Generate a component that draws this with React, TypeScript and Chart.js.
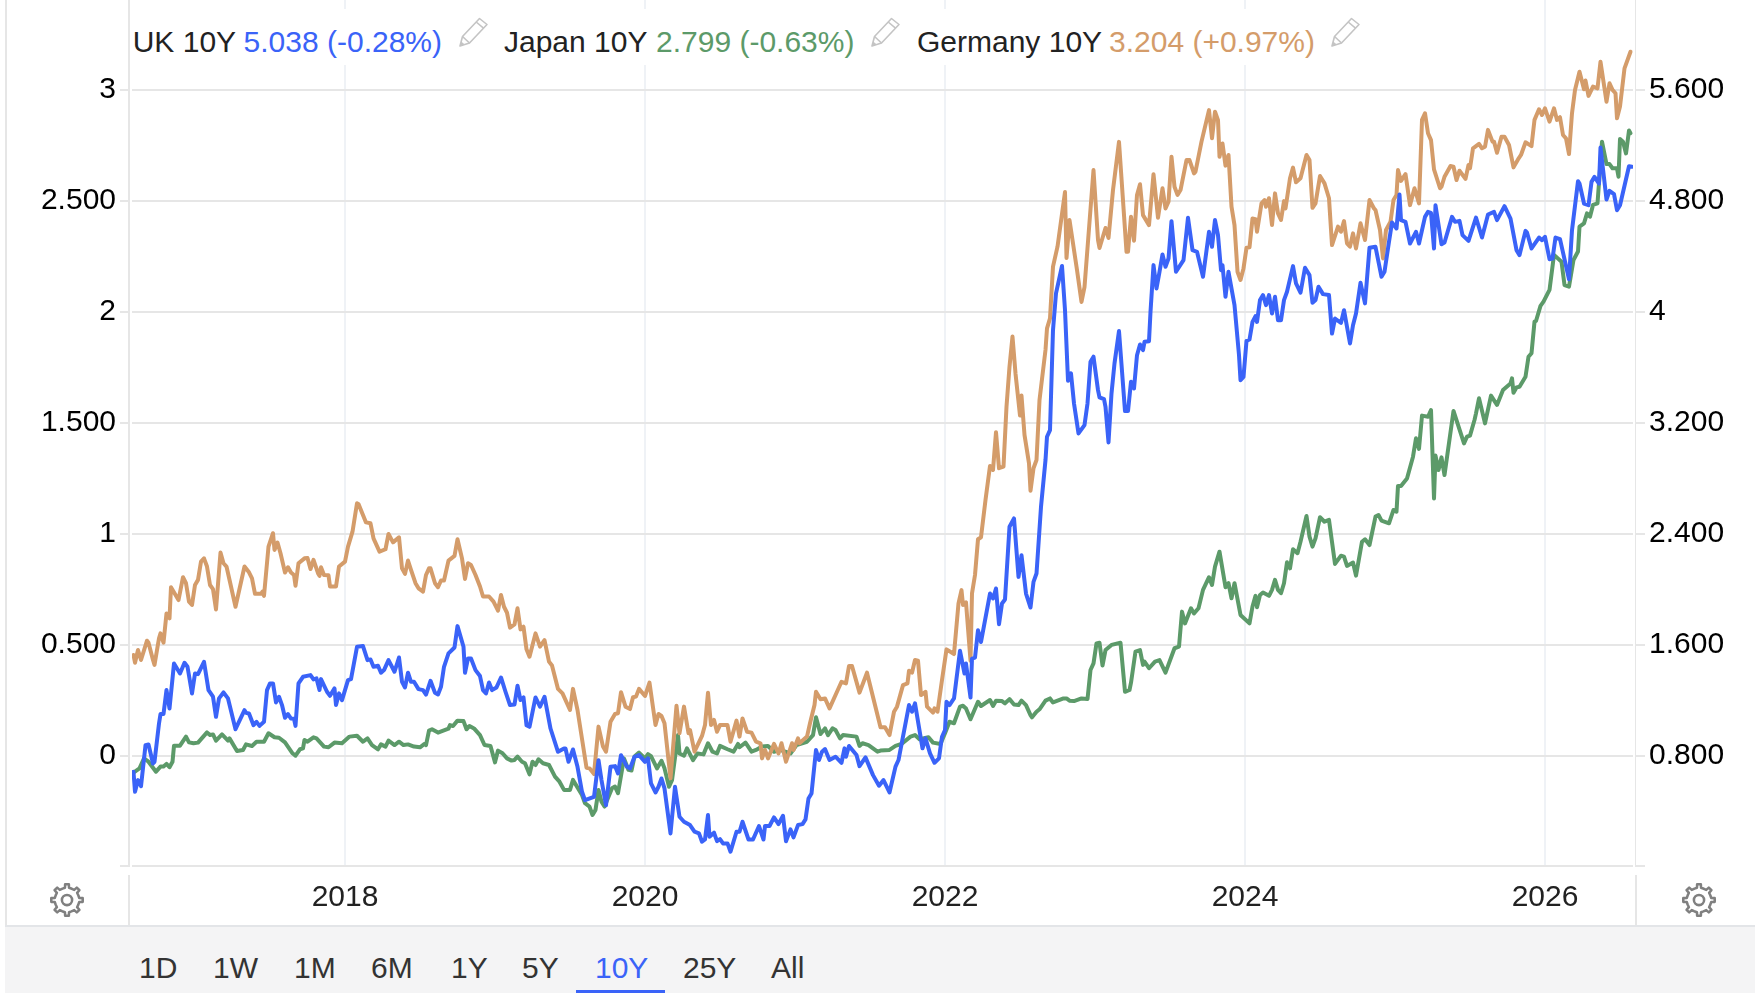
import React, { useEffect, useRef } from 'react';
import { Chart, registerables } from 'chart.js';

Chart.register(...registerables);

const FONT = '"Liberation Sans", Arial, sans-serif';

const UK_COLOR = '#3a63f8';
const JAPAN_COLOR = '#5c9a69';
const GERMANY_COLOR = '#d49c6a';

const yearTicks = [2018, 2020, 2022, 2024, 2026];
const leftTicks = [0, 0.5, 1, 1.5, 2, 2.5, 3];
const leftTickLabels = ['0', '0.500', '1', '1.500', '2', '2.500', '3'];
const rightTicks = [0.8, 1.6, 2.4, 3.2, 4, 4.8, 5.6];
const rightTickLabels = ['0.800', '1.600', '2.400', '3.200', '4', '4.800', '5.600'];
const rangeLabels = ['1D', '1W', '1M', '6M', '1Y', '5Y', '10Y', '25Y', 'All'];

// UK 10Y, right axis
const ukDates = [
  2016.59, 2016.60, 2016.62, 2016.64, 2016.67, 2016.69, 2016.72, 2016.73, 2016.76, 2016.77, 2016.79, 2016.81, 2016.83, 2016.86, 2016.90, 2016.93, 2016.95, 2016.98,
  2017.00, 2017.02, 2017.06, 2017.09, 2017.12, 2017.14, 2017.16, 2017.19, 2017.22, 2017.27, 2017.33, 2017.34, 2017.36, 2017.39, 2017.41, 2017.43, 2017.46, 2017.48, 2017.50, 2017.52, 2017.54, 2017.56, 2017.58, 2017.60, 2017.62, 2017.64, 2017.66, 2017.67, 2017.69, 2017.72, 2017.77, 2017.79, 2017.81, 2017.83, 2017.84, 2017.88, 2017.90, 2017.93, 2017.94, 2017.96, 2017.98,
  2018.02, 2018.04, 2018.08, 2018.12, 2018.15, 2018.17, 2018.19, 2018.22, 2018.24, 2018.26, 2018.29, 2018.33, 2018.36, 2018.38, 2018.40, 2018.42, 2018.44, 2018.46, 2018.49, 2018.52, 2018.54, 2018.57, 2018.60, 2018.62, 2018.64, 2018.66, 2018.69, 2018.73, 2018.75, 2018.79, 2018.80, 2018.82, 2018.84, 2018.87, 2018.90, 2018.92, 2018.94, 2018.96, 2018.98,
  2019.01, 2019.04, 2019.07, 2019.10, 2019.13, 2019.15, 2019.17, 2019.19, 2019.21, 2019.23, 2019.27, 2019.30, 2019.33, 2019.37, 2019.42, 2019.46, 2019.47, 2019.49, 2019.52, 2019.55, 2019.58, 2019.60, 2019.66, 2019.69, 2019.71, 2019.74, 2019.77, 2019.80, 2019.82, 2019.84, 2019.88, 2019.90, 2019.93, 2019.96,
  2020.00, 2020.02, 2020.04, 2020.07, 2020.09, 2020.11, 2020.13, 2020.17, 2020.20, 2020.23, 2020.26, 2020.30, 2020.33, 2020.36, 2020.38, 2020.40, 2020.42, 2020.43, 2020.46, 2020.48, 2020.50, 2020.52, 2020.55, 2020.57, 2020.61, 2020.63, 2020.65, 2020.69, 2020.72, 2020.76, 2020.79, 2020.80, 2020.83, 2020.86, 2020.89, 2020.92, 2020.94, 2020.97, 2020.99,
  2021.02, 2021.05, 2021.07, 2021.09, 2021.11, 2021.14, 2021.16, 2021.18, 2021.20, 2021.23, 2021.27, 2021.31, 2021.33, 2021.34, 2021.36, 2021.41, 2021.43, 2021.47, 2021.52, 2021.56, 2021.59, 2021.63, 2021.67, 2021.69, 2021.76, 2021.78, 2021.80, 2021.85, 2021.87, 2021.90, 2021.93, 2021.96, 2021.98,
  2022.00, 2022.01, 2022.03, 2022.06, 2022.10, 2022.13, 2022.14, 2022.17, 2022.18, 2022.20, 2022.22, 2022.24, 2022.30, 2022.32, 2022.34, 2022.36, 2022.38, 2022.40, 2022.43, 2022.46, 2022.49, 2022.51, 2022.54, 2022.57, 2022.59, 2022.61, 2022.64, 2022.67, 2022.68, 2022.70, 2022.72, 2022.74, 2022.78, 2022.80, 2022.82, 2022.84, 2022.86, 2022.89, 2022.93, 2022.95, 2022.97, 2022.99,
  2023.02, 2023.03, 2023.06, 2023.07, 2023.09, 2023.11, 2023.13, 2023.16, 2023.20, 2023.22, 2023.24, 2023.26, 2023.28, 2023.30, 2023.32, 2023.33, 2023.36, 2023.37, 2023.39, 2023.41, 2023.43, 2023.45, 2023.47, 2023.49, 2023.51, 2023.54, 2023.59, 2023.62, 2023.65, 2023.68, 2023.72, 2023.76, 2023.78, 2023.80, 2023.82, 2023.84, 2023.85, 2023.87, 2023.89, 2023.93, 2023.96, 2023.97, 2023.99,
  2024.01, 2024.03, 2024.05, 2024.07, 2024.08, 2024.10, 2024.12, 2024.14, 2024.16, 2024.18, 2024.20, 2024.22, 2024.24, 2024.26, 2024.28, 2024.32, 2024.34, 2024.37, 2024.40, 2024.43, 2024.45, 2024.47, 2024.49, 2024.52, 2024.56, 2024.58, 2024.60, 2024.64, 2024.66, 2024.70, 2024.72, 2024.74, 2024.77, 2024.80, 2024.83, 2024.87, 2024.91, 2024.93, 2024.96, 2024.98,
  2025.01, 2025.03, 2025.04, 2025.07, 2025.10, 2025.14, 2025.16, 2025.20, 2025.22, 2025.24, 2025.26, 2025.27, 2025.31, 2025.33, 2025.38, 2025.40, 2025.43, 2025.45, 2025.49, 2025.54, 2025.58, 2025.62, 2025.66, 2025.68, 2025.73, 2025.77, 2025.81, 2025.83, 2025.87, 2025.88, 2025.91, 2025.96, 2025.98,
  2026.00, 2026.03, 2026.05, 2026.07, 2026.10, 2026.16, 2026.18, 2026.22, 2026.23, 2026.26, 2026.29, 2026.31, 2026.33, 2026.36, 2026.37, 2026.41, 2026.43, 2026.46, 2026.48, 2026.50, 2026.56, 2026.58,
];
const ukYields = [
  0.684, 0.540, 0.624, 0.580, 0.876, 0.881, 0.744, 0.756, 1.032, 1.100, 1.100, 1.273, 1.140, 1.465, 1.393, 1.470, 1.441, 1.249,
  1.393, 1.388, 1.477, 1.273, 1.225, 1.080, 1.213, 1.256, 1.213, 0.991, 1.128, 1.109, 1.104, 1.020, 1.044, 1.015, 1.044, 1.273, 1.321, 1.321, 1.184, 1.225, 1.165, 1.073, 1.100, 1.068, 1.066, 1.015, 1.321, 1.369, 1.381, 1.350, 1.357, 1.273, 1.352, 1.261, 1.232, 1.285, 1.165, 1.249, 1.201,
  1.345, 1.352, 1.585, 1.590, 1.489, 1.494, 1.441, 1.448, 1.398, 1.417, 1.489, 1.405, 1.508, 1.333, 1.292, 1.398, 1.333, 1.333, 1.280, 1.273, 1.241, 1.340, 1.253, 1.241, 1.297, 1.441, 1.537, 1.580, 1.734, 1.585, 1.398, 1.501, 1.501, 1.417, 1.374, 1.273, 1.249, 1.328, 1.273,
  1.292, 1.364, 1.261, 1.165, 1.169, 1.304, 1.201, 1.220, 1.020, 1.008, 1.220, 1.153, 1.225, 0.996, 0.828, 0.852, 0.852, 0.756, 0.845, 0.720, 0.540, 0.479, 0.503, 0.768, 0.624, 0.443, 0.720, 0.725, 0.672, 0.804, 0.720, 0.708, 0.792, 0.804,
  0.756, 0.781, 0.600, 0.535, 0.576, 0.636, 0.564, 0.240, 0.576, 0.360, 0.324, 0.300, 0.252, 0.240, 0.180, 0.196, 0.372, 0.216, 0.245, 0.184, 0.199, 0.168, 0.168, 0.108, 0.252, 0.252, 0.324, 0.196, 0.196, 0.293, 0.196, 0.293, 0.293, 0.355, 0.307, 0.367, 0.184, 0.269, 0.211,
  0.300, 0.307, 0.341, 0.492, 0.528, 0.841, 0.769, 0.829, 0.848, 0.769, 0.793, 0.749, 0.853, 0.793, 0.870, 0.805, 0.725, 0.788, 0.660, 0.584, 0.624, 0.535, 0.721, 0.769, 1.165, 1.117, 1.177, 0.853, 0.925, 0.817, 0.749, 0.781, 0.937,
  0.985, 1.189, 1.165, 1.213, 1.556, 1.392, 1.464, 1.219, 1.500, 1.507, 1.705, 1.620, 1.969, 1.933, 2.005, 1.748, 1.897, 1.926, 2.450, 2.510, 2.089, 2.245, 1.969, 1.868, 2.053, 2.113, 2.594, 2.931, 3.099, 3.147, 3.868, 4.132, 4.330, 4.012, 3.503, 3.556, 3.339, 3.123, 3.183, 3.339, 3.640, 3.676,
  3.435, 3.383, 3.370, 3.315, 3.058, 3.411, 3.628, 3.861, 3.284, 3.284, 3.495, 3.447, 3.687, 3.764, 3.723, 3.783, 3.788, 3.999, 4.336, 4.168, 4.288, 4.413, 4.324, 4.384, 4.653, 4.288, 4.372, 4.677, 4.444, 4.432, 4.252, 4.576, 4.468, 4.661, 4.552, 4.300, 4.336, 4.108, 4.288, 4.048, 3.687, 3.507, 3.531,
  3.790, 3.800, 3.927, 3.968, 3.927, 4.084, 4.120, 4.048, 4.120, 3.987, 4.108, 3.939, 3.939, 4.084, 4.144, 4.329, 4.204, 4.137, 4.317, 4.264, 4.064, 4.084, 4.180, 4.127, 4.120, 3.843, 3.951, 3.920, 4.011, 3.771, 3.903, 3.987, 4.209, 4.060, 4.461, 4.468, 4.252, 4.288, 4.504, 4.644,
  4.600, 4.845, 4.660, 4.648, 4.492, 4.576, 4.492, 4.684, 4.720, 4.713, 4.456, 4.768, 4.487, 4.499, 4.684, 4.648, 4.655, 4.552, 4.511, 4.679, 4.535, 4.701, 4.720, 4.660, 4.761, 4.672, 4.444, 4.408, 4.583, 4.571, 4.456, 4.535, 4.516,
  4.540, 4.379, 4.383, 4.535, 4.523, 4.234, 4.588, 4.941, 4.924, 4.780, 4.768, 4.936, 4.972, 4.924, 5.184, 4.809, 4.871, 4.847, 4.732, 4.768, 5.049, 5.045,
];

// Japan 10Y, left axis
const japanDates = [
  2016.59, 2016.63, 2016.66, 2016.69, 2016.74, 2016.77, 2016.79, 2016.81, 2016.83, 2016.85, 2016.86, 2016.90, 2016.94, 2016.96, 2016.99,
  2017.02, 2017.08, 2017.10, 2017.12, 2017.14, 2017.18, 2017.22, 2017.23, 2017.28, 2017.32, 2017.34, 2017.38, 2017.41, 2017.46, 2017.49, 2017.53, 2017.56, 2017.60, 2017.65, 2017.67, 2017.70, 2017.72, 2017.73, 2017.75, 2017.79, 2017.81, 2017.86, 2017.89, 2017.93, 2017.98,
  2018.03, 2018.08, 2018.12, 2018.15, 2018.18, 2018.22, 2018.24, 2018.27, 2018.29, 2018.33, 2018.36, 2018.39, 2018.42, 2018.46, 2018.50, 2018.53, 2018.54, 2018.56, 2018.58, 2018.62, 2018.69, 2018.70, 2018.72, 2018.75, 2018.79, 2018.81, 2018.83, 2018.86, 2018.90, 2018.93, 2018.97,
  2019.00, 2019.02, 2019.05, 2019.08, 2019.11, 2019.13, 2019.15, 2019.18, 2019.20, 2019.23, 2019.25, 2019.27, 2019.29, 2019.32, 2019.36, 2019.40, 2019.43, 2019.46, 2019.50, 2019.52, 2019.54, 2019.58, 2019.60, 2019.63, 2019.65, 2019.67, 2019.69, 2019.71, 2019.73, 2019.78, 2019.80, 2019.82, 2019.86, 2019.89, 2019.91, 2019.93, 2019.96,
  2020.00, 2020.02, 2020.04, 2020.08, 2020.11, 2020.13, 2020.16, 2020.18, 2020.22, 2020.23, 2020.26, 2020.28, 2020.32, 2020.35, 2020.39, 2020.42, 2020.45, 2020.48, 2020.50, 2020.55, 2020.59, 2020.62, 2020.63, 2020.67, 2020.71, 2020.74, 2020.78, 2020.82, 2020.86, 2020.90, 2020.97,
  2021.01, 2021.08, 2021.12, 2021.14, 2021.17, 2021.20, 2021.22, 2021.25, 2021.27, 2021.30, 2021.32, 2021.41, 2021.43, 2021.45, 2021.49, 2021.55, 2021.57, 2021.63, 2021.67, 2021.71, 2021.77, 2021.80, 2021.83, 2021.89, 2021.92, 2021.97,
  2022.00, 2022.03, 2022.06, 2022.10, 2022.12, 2022.14, 2022.17, 2022.22, 2022.24, 2022.30, 2022.32, 2022.34, 2022.38, 2022.40, 2022.43, 2022.46, 2022.49, 2022.51, 2022.54, 2022.57, 2022.58, 2022.61, 2022.63, 2022.67, 2022.70, 2022.72, 2022.79, 2022.81, 2022.83, 2022.86, 2022.91, 2022.95, 2022.97, 2022.99,
  2023.01, 2023.03, 2023.05, 2023.07, 2023.11, 2023.17, 2023.20, 2023.23, 2023.24, 2023.27, 2023.30, 2023.32, 2023.33, 2023.36, 2023.40, 2023.43, 2023.47, 2023.53, 2023.56, 2023.58, 2023.60, 2023.64, 2023.66, 2023.69, 2023.72, 2023.76, 2023.78, 2023.80, 2023.83, 2023.87, 2023.89, 2023.91, 2023.93, 2023.97,
  2024.03, 2024.05, 2024.07, 2024.08, 2024.10, 2024.12, 2024.16, 2024.18, 2024.20, 2024.22, 2024.24, 2024.26, 2024.28, 2024.30, 2024.32, 2024.35, 2024.37, 2024.41, 2024.43, 2024.45, 2024.47, 2024.50, 2024.53, 2024.56, 2024.60, 2024.64, 2024.66, 2024.68, 2024.72, 2024.74, 2024.78, 2024.80, 2024.83, 2024.87, 2024.89, 2024.91, 2024.96, 2024.99,
  2025.01, 2025.02, 2025.04, 2025.08, 2025.12, 2025.14, 2025.16, 2025.18, 2025.22, 2025.24, 2025.26, 2025.27, 2025.29, 2025.31, 2025.33, 2025.39, 2025.46, 2025.48, 2025.50, 2025.53, 2025.54, 2025.56, 2025.60, 2025.64, 2025.68, 2025.72, 2025.77, 2025.78, 2025.79, 2025.81, 2025.83, 2025.87, 2025.89, 2025.91, 2025.93, 2025.94, 2025.97, 2025.99,
  2026.03, 2026.06, 2026.11, 2026.13, 2026.16, 2026.19, 2026.22, 2026.23, 2026.26, 2026.28, 2026.30, 2026.32, 2026.35, 2026.38, 2026.41, 2026.43, 2026.45, 2026.48, 2026.49, 2026.50, 2026.52, 2026.54, 2026.56, 2026.57,
];
const japanYields = [
  -0.076, -0.057, -0.012, -0.027, -0.072, -0.049, -0.049, -0.037, -0.052, -0.027, 0.045, 0.045, 0.086, 0.060, 0.056,
  0.059, 0.105, 0.093, 0.096, 0.068, 0.096, 0.068, 0.078, 0.021, 0.026, 0.051, 0.044, 0.063, 0.063, 0.101, 0.083, 0.081, 0.060, 0.011, 0.000, 0.029, 0.033, 0.071, 0.063, 0.083, 0.078, 0.041, 0.038, 0.059, 0.056,
  0.086, 0.090, 0.063, 0.078, 0.048, 0.029, 0.051, 0.041, 0.068, 0.048, 0.063, 0.048, 0.051, 0.041, 0.038, 0.053, 0.048, 0.113, 0.119, 0.104, 0.122, 0.138, 0.134, 0.158, 0.156, 0.119, 0.134, 0.123, 0.093, 0.048, 0.044,
  -0.030, 0.023, 0.011, -0.012, -0.022, -0.019, -0.004, -0.027, -0.034, -0.084, -0.027, -0.042, -0.016, -0.034, -0.042, -0.094, -0.117, -0.154, -0.154, -0.109, -0.132, -0.177, -0.214, -0.229, -0.267, -0.244, -0.154, -0.207, -0.229, -0.147, -0.139, -0.169, -0.012, -0.064, -0.067, -0.004, 0.014,
  -0.012, 0.007, -0.002, -0.057, -0.023, -0.057, -0.140, -0.110, 0.093, 0.010, 0.000, 0.033, -0.020, 0.010, 0.006, 0.056, 0.018, 0.010, 0.044, 0.029, 0.018, 0.053, 0.038, 0.059, 0.018, 0.026, 0.041, 0.044, 0.018, 0.026, 0.010,
  0.048, 0.063, 0.093, 0.173, 0.098, 0.123, 0.093, 0.123, 0.116, 0.078, 0.093, 0.086, 0.044, 0.056, 0.048, 0.018, 0.023, 0.026, 0.044, 0.053, 0.086, 0.093, 0.074, 0.083, 0.059, 0.053,
  0.101, 0.153, 0.146, 0.221, 0.225, 0.213, 0.164, 0.243, 0.224, 0.251, 0.224, 0.248, 0.246, 0.236, 0.255, 0.231, 0.228, 0.248, 0.228, 0.183, 0.173, 0.198, 0.209, 0.248, 0.258, 0.240, 0.258, 0.258, 0.248, 0.246, 0.258, 0.255, 0.386, 0.416,
  0.506, 0.509, 0.406, 0.476, 0.499, 0.509, 0.288, 0.296, 0.329, 0.469, 0.476, 0.409, 0.424, 0.394, 0.424, 0.431, 0.374, 0.484, 0.491, 0.649, 0.596, 0.664, 0.641, 0.664, 0.747, 0.804, 0.769, 0.852, 0.919, 0.759, 0.777, 0.709, 0.777, 0.634,
  0.596, 0.672, 0.720, 0.669, 0.724, 0.735, 0.720, 0.747, 0.792, 0.747, 0.732, 0.777, 0.871, 0.844, 0.930, 0.912, 0.964, 1.080, 0.987, 0.942, 0.979, 1.074, 1.054, 1.062, 0.864, 0.901, 0.897, 0.855, 0.870, 0.811, 0.964, 0.975, 0.949, 1.077, 1.084, 1.059, 1.047, 1.107,
  1.099, 1.215, 1.215, 1.249, 1.347, 1.430, 1.382, 1.532, 1.527, 1.557, 1.159, 1.352, 1.287, 1.344, 1.264, 1.553, 1.407, 1.437, 1.442, 1.512, 1.542, 1.610, 1.497, 1.622, 1.580, 1.647, 1.677, 1.700, 1.635, 1.659, 1.662, 1.707, 1.797, 1.813, 1.955, 1.958, 2.026, 2.045,
  2.098, 2.256, 2.225, 2.120, 2.113, 2.233, 2.271, 2.383, 2.398, 2.443, 2.428, 2.481, 2.488, 2.766, 2.665, 2.665, 2.646, 2.646, 2.608, 2.778, 2.766, 2.713, 2.816, 2.804,
];

// Germany 10Y, left axis
const germanyDates = [
  2016.59, 2016.60, 2016.62, 2016.64, 2016.68, 2016.69, 2016.72, 2016.73, 2016.76, 2016.77, 2016.79, 2016.81, 2016.83, 2016.84, 2016.89, 2016.92, 2016.94, 2016.96, 2016.98,
  2017.00, 2017.02, 2017.04, 2017.06, 2017.08, 2017.10, 2017.12, 2017.14, 2017.17, 2017.19, 2017.21, 2017.24, 2017.27, 2017.33, 2017.36, 2017.38, 2017.40, 2017.44, 2017.45, 2017.46, 2017.49, 2017.52, 2017.53, 2017.55, 2017.57, 2017.60, 2017.62, 2017.64, 2017.66, 2017.67, 2017.69, 2017.73, 2017.75, 2017.77, 2017.79, 2017.82, 2017.83, 2017.84, 2017.86, 2017.89, 2017.90, 2017.94, 2017.96,
  2018.00, 2018.02, 2018.05, 2018.08, 2018.09, 2018.14, 2018.17, 2018.19, 2018.23, 2018.27, 2018.29, 2018.32, 2018.36, 2018.38, 2018.40, 2018.42, 2018.44, 2018.47, 2018.49, 2018.52, 2018.54, 2018.56, 2018.57, 2018.60, 2018.62, 2018.64, 2018.66, 2018.69, 2018.73, 2018.75, 2018.78, 2018.80, 2018.82, 2018.84, 2018.87, 2018.90, 2018.92, 2018.96, 2018.99,
  2019.02, 2019.04, 2019.06, 2019.08, 2019.10, 2019.13, 2019.15, 2019.17, 2019.19, 2019.21, 2019.23, 2019.27, 2019.30, 2019.33, 2019.36, 2019.38, 2019.42, 2019.45, 2019.50, 2019.52, 2019.55, 2019.61, 2019.63, 2019.66, 2019.69, 2019.72, 2019.74, 2019.77, 2019.80, 2019.82, 2019.84, 2019.87, 2019.90, 2019.92, 2019.94, 2019.96,
  2020.00, 2020.03, 2020.07, 2020.09, 2020.11, 2020.13, 2020.17, 2020.21, 2020.23, 2020.26, 2020.29, 2020.30, 2020.33, 2020.38, 2020.40, 2020.42, 2020.44, 2020.46, 2020.48, 2020.50, 2020.55, 2020.57, 2020.61, 2020.63, 2020.65, 2020.68, 2020.71, 2020.74, 2020.77, 2020.78, 2020.80, 2020.82, 2020.86, 2020.89, 2020.91, 2020.94, 2020.98, 2020.99,
  2021.02, 2021.03, 2021.08, 2021.10, 2021.13, 2021.14, 2021.17, 2021.20, 2021.23, 2021.28, 2021.31, 2021.34, 2021.36, 2021.38, 2021.43, 2021.48, 2021.57, 2021.60, 2021.63, 2021.66, 2021.68, 2021.72, 2021.75, 2021.76, 2021.78, 2021.80, 2021.82, 2021.84, 2021.87, 2021.88, 2021.92, 2021.93, 2021.95, 2021.98,
  2022.01, 2022.06, 2022.09, 2022.11, 2022.12, 2022.14, 2022.17, 2022.18, 2022.20, 2022.22, 2022.24, 2022.27, 2022.30, 2022.32, 2022.34, 2022.36, 2022.39, 2022.41, 2022.43, 2022.45, 2022.47, 2022.50, 2022.51, 2022.53, 2022.56, 2022.57, 2022.59, 2022.61, 2022.63, 2022.67, 2022.68, 2022.70, 2022.72, 2022.75, 2022.80, 2022.81, 2022.83, 2022.88, 2022.91, 2022.93, 2022.99,
  2023.02, 2023.03, 2023.07, 2023.09, 2023.12, 2023.16, 2023.21, 2023.22, 2023.24, 2023.26, 2023.28, 2023.30, 2023.32, 2023.36, 2023.39, 2023.42, 2023.45, 2023.47, 2023.49, 2023.51, 2023.53, 2023.55, 2023.57, 2023.61, 2023.63, 2023.66, 2023.67, 2023.71, 2023.76, 2023.78, 2023.80, 2023.82, 2023.83, 2023.85, 2023.87, 2023.89, 2023.91, 2023.93, 2023.95, 2023.97, 2023.99,
  2024.01, 2024.03, 2024.05, 2024.07, 2024.08, 2024.11, 2024.13, 2024.14, 2024.16, 2024.18, 2024.20, 2024.22, 2024.24, 2024.26, 2024.27, 2024.30, 2024.32, 2024.34, 2024.37, 2024.41, 2024.43, 2024.45, 2024.47, 2024.50, 2024.53, 2024.56, 2024.58, 2024.62, 2024.64, 2024.66, 2024.68, 2024.70, 2024.72, 2024.74, 2024.77, 2024.80, 2024.83, 2024.86, 2024.87, 2024.90, 2024.92, 2024.94, 2024.97, 2024.99,
  2025.01, 2025.02, 2025.04, 2025.07, 2025.10, 2025.13, 2025.16, 2025.18, 2025.20, 2025.22, 2025.24, 2025.26, 2025.30, 2025.31, 2025.33, 2025.37, 2025.39, 2025.41, 2025.43, 2025.47, 2025.49, 2025.50, 2025.52, 2025.56, 2025.58, 2025.60, 2025.62, 2025.65, 2025.66, 2025.68, 2025.71, 2025.73, 2025.76, 2025.79, 2025.82, 2025.84, 2025.87, 2025.91, 2025.93, 2025.96, 2025.98,
  2026.00, 2026.03, 2026.06, 2026.08, 2026.10, 2026.12, 2026.14, 2026.16, 2026.18, 2026.20, 2026.23, 2026.26, 2026.27, 2026.29, 2026.32, 2026.35, 2026.37, 2026.41, 2026.43, 2026.45, 2026.47, 2026.48, 2026.50, 2026.53, 2026.57,
];
const germanyYields = [
  0.454, 0.419, 0.476, 0.431, 0.518, 0.509, 0.431, 0.409, 0.529, 0.551, 0.509, 0.641, 0.619, 0.759, 0.701, 0.804, 0.777, 0.694, 0.679,
  0.769, 0.792, 0.874, 0.889, 0.852, 0.769, 0.750, 0.659, 0.915, 0.867, 0.852, 0.762, 0.671, 0.852, 0.826, 0.799, 0.729, 0.729, 0.739, 0.720, 0.942, 1.002, 0.927, 0.960, 0.912, 0.825, 0.849, 0.825, 0.814, 0.766, 0.867, 0.889, 0.891, 0.841, 0.882, 0.822, 0.810, 0.849, 0.814, 0.813, 0.762, 0.762, 0.852,
  0.874, 0.942, 1.009, 1.137, 1.134, 1.051, 1.047, 0.979, 0.919, 0.930, 0.999, 0.961, 0.984, 0.844, 0.819, 0.879, 0.837, 0.777, 0.754, 0.739, 0.814, 0.844, 0.844, 0.777, 0.759, 0.789, 0.789, 0.879, 0.900, 0.975, 0.889, 0.796, 0.867, 0.859, 0.814, 0.762, 0.717, 0.717, 0.694,
  0.653, 0.724, 0.671, 0.644, 0.577, 0.592, 0.664, 0.569, 0.581, 0.479, 0.446, 0.551, 0.491, 0.521, 0.424, 0.406, 0.301, 0.281, 0.206, 0.301, 0.206, -0.054, -0.057, -0.082, 0.131, 0.041, 0.018, 0.153, 0.188, 0.191, 0.286, 0.221, 0.210, 0.263, 0.266, 0.301,
  0.269, 0.329, 0.138, 0.188, 0.179, 0.146, -0.102, 0.225, 0.101, 0.221, 0.101, 0.116, 0.018, 0.089, 0.138, 0.284, 0.138, 0.161, 0.108, 0.138, 0.138, 0.063, 0.158, 0.086, 0.168, 0.108, 0.104, 0.063, 0.056, -0.012, 0.026, -0.012, 0.053, 0.010, 0.056, -0.027, 0.056, 0.026,
  0.078, 0.056, 0.086, 0.146, 0.228, 0.288, 0.254, 0.258, 0.213, 0.288, 0.333, 0.326, 0.404, 0.404, 0.284, 0.374, 0.128, 0.128, 0.093, 0.198, 0.221, 0.318, 0.326, 0.383, 0.374, 0.431, 0.428, 0.273, 0.288, 0.221, 0.194, 0.213, 0.198, 0.341,
  0.479, 0.458, 0.686, 0.746, 0.679, 0.691, 0.428, 0.731, 0.814, 0.975, 0.984, 1.152, 1.305, 1.287, 1.457, 1.295, 1.302, 1.572, 1.752, 1.888, 1.722, 1.532, 1.622, 1.445, 1.317, 1.194, 1.295, 1.332, 1.602, 1.828, 1.925, 1.970, 2.203, 2.293, 2.539, 2.242, 2.413, 2.188, 2.044, 2.111, 2.638,
  2.323, 2.287, 2.377, 2.332, 2.548, 2.765, 2.270, 2.270, 2.428, 2.320, 2.526, 2.574, 2.435, 2.390, 2.619, 2.423, 2.556, 2.465, 2.495, 2.698, 2.563, 2.526, 2.548, 2.683, 2.683, 2.623, 2.631, 2.766, 2.908, 2.781, 2.901, 2.863, 2.698, 2.758, 2.658, 2.706, 2.473, 2.390, 2.180, 2.143, 2.195,
  2.288, 2.290, 2.420, 2.417, 2.360, 2.488, 2.503, 2.473, 2.511, 2.390, 2.533, 2.443, 2.413, 2.498, 2.465, 2.601, 2.649, 2.583, 2.601, 2.706, 2.683, 2.468, 2.488, 2.611, 2.578, 2.511, 2.300, 2.383, 2.360, 2.408, 2.308, 2.293, 2.353, 2.285, 2.398, 2.323, 2.503, 2.465, 2.458, 2.368, 2.240, 2.368, 2.405, 2.503,
  2.526, 2.638, 2.589, 2.620, 2.480, 2.556, 2.488, 2.864, 2.894, 2.804, 2.773, 2.641, 2.556, 2.563, 2.608, 2.656, 2.653, 2.593, 2.635, 2.598, 2.661, 2.646, 2.736, 2.756, 2.736, 2.743, 2.819, 2.766, 2.766, 2.716, 2.788, 2.788, 2.751, 2.650, 2.686, 2.706, 2.763, 2.746, 2.864, 2.912, 2.886,
  2.916, 2.856, 2.916, 2.864, 2.876, 2.796, 2.781, 2.710, 2.894, 2.999, 3.081, 3.002, 3.041, 2.972, 3.014, 3.006, 3.126, 2.946, 3.029, 2.999, 2.984, 2.871, 2.924, 3.096, 3.171,
];

const GRID_H = '#e6e6e6';
const GRID_V = '#eff2f6';

const toPoints = (dates: number[], yields: number[]) =>
  dates.map((d, i) => ({ x: d, y: yields[i] }));

const setTicks = (values: number[]) => (axis: any) => {
  axis.ticks = values.map(value => ({ value }));
};

// the chart area has to reach the top edge of the canvas
const clearPadding = (axis: any) => {
  axis.paddingTop = 0;
  axis.paddingBottom = 0;
  axis.paddingLeft = 0;
  axis.paddingRight = 0;
};

const Gear: React.FC<{ left: number; top: number }> = ({ left, top }) => {
  const teeth = 8;
  let d = '';
  for (let i = 0; i < teeth; i++) {
    const a = (i / teeth) * Math.PI * 2 - Math.PI / 2;
    const s = Math.PI / teeth;
    const pts = [
      [14.4, a - s * 0.95], [14.6, a - s * 0.42], [18.6, a - s * 0.3], [18.6, a + s * 0.3], [14.6, a + s * 0.42],
    ];
    pts.forEach(([r, t], j) => {
      d += `${i === 0 && j === 0 ? 'M' : 'L'}${(20 + r * Math.cos(t)).toFixed(2)} ${(20 + r * Math.sin(t)).toFixed(2)}`;
    });
  }
  return (
    <svg width={34} height={34} viewBox="0 0 40 40" style={{ position: 'absolute', left, top }}>
      <path d={d + 'Z'} fill="none" stroke="#808080" strokeWidth={3} strokeLinejoin="round" />
      <circle cx={20} cy={20} r={6} fill="none" stroke="#808080" strokeWidth={3} />
    </svg>
  );
};

const Pencil: React.FC<{ left: number }> = ({ left }) => (
  <svg width={32} height={32} viewBox="0 0 32 32" style={{ position: 'absolute', left, top: 16 }}>
    <g fill="none" stroke="#c4c4c4" strokeWidth={1.6} strokeLinejoin="round">
      <path d="M21.5 2.5 L29 8.5 L11.5 27 L2 30 L4.5 20.5 Z" />
      <path d="M18.2 6 L25.8 12.4" />
      <path d="M4.5 20.5 L11.5 27" />
    </g>
    <path d="M2 30 L3.2 25.4 L6.8 28.6 Z" fill="#c4c4c4" />
  </svg>
);

const textStyle = (left: number, top: number, color: string): React.CSSProperties => ({
  position: 'absolute',
  left,
  top,
  color,
  font: `30px/36px ${FONT}`,
  whiteSpace: 'nowrap',
});

const strip = (left: number, top: number, width: number, height: number, background: string): React.CSSProperties => ({
  position: 'absolute',
  left,
  top,
  width,
  height,
  background,
});

const rangeLefts = [139, 213, 294, 371, 451, 522, 595, 683, 771];

const App: React.FC = () => {
  const canvasRef = useRef<HTMLCanvasElement | null>(null);

  useEffect(() => {
    document.body.style.margin = '0';
    if (!canvasRef.current) return;

    const chart = new Chart(canvasRef.current, {
      type: 'line',
      data: {
        datasets: [
          { label: 'UK 10Y', data: toPoints(ukDates, ukYields), borderColor: UK_COLOR, yAxisID: 'right' },
          { label: 'Germany 10Y', data: toPoints(germanyDates, germanyYields), borderColor: GERMANY_COLOR, yAxisID: 'left' },
          { label: 'Japan 10Y', data: toPoints(japanDates, japanYields), borderColor: JAPAN_COLOR, yAxisID: 'left' },
        ],
      },
      options: {
        responsive: false,
        animation: false,
        layout: { padding: 0 },
        elements: {
          point: { radius: 0 },
          line: { borderWidth: 4, tension: 0, borderJoinStyle: 'round', borderCapStyle: 'round' },
        },
        plugins: { legend: { display: false }, tooltip: { enabled: false } },
        scales: {
          x: {
            type: 'linear',
            min: 2016.56,
            max: 2026.6,
            afterBuildTicks: setTicks(yearTicks),
            afterFit: (axis: any) => { axis.height = 127; clearPadding(axis); },
            grid: { color: GRID_V, lineWidth: 2, drawTicks: false },
            border: { color: GRID_H, width: 2 },
            ticks: {
              color: '#222',
              padding: 14,
              maxRotation: 0,
              autoSkip: false,
              font: { family: FONT, size: 30 },
              callback: (v: any) => String(v),
            },
          },
          left: {
            type: 'linear',
            position: 'left',
            min: -0.4968,
            max: 3.404,
            afterBuildTicks: setTicks(leftTicks),
            afterFit: (axis: any) => { axis.width = 129; clearPadding(axis); },
            grid: { color: GRID_H, lineWidth: 2, tickLength: 9 },
            border: { color: GRID_H, width: 2 },
            ticks: {
              color: '#000',
              padding: 4,
              autoSkip: false,
              font: { family: FONT, size: 30 },
              callback: (_v: any, i: number) => leftTickLabels[i],
            },
          },
          right: {
            type: 'linear',
            position: 'right',
            min: 0.005,
            max: 6.247,
            afterBuildTicks: setTicks(rightTicks),
            afterFit: (axis: any) => { axis.width = 120; clearPadding(axis); },
            grid: { color: GRID_H, lineWidth: 2, tickLength: 10, drawOnChartArea: false },
            border: { color: GRID_H, width: 2 },
            ticks: {
              color: '#000',
              padding: 4,
              autoSkip: false,
              font: { family: FONT, size: 30 },
              callback: (_v: any, i: number) => rightTickLabels[i],
            },
          },
        },
      } as any,
    });

    return () => chart.destroy();
  }, []);

  return (
    <div style={{ position: 'relative', width: 1755, height: 993, overflow: 'hidden', background: '#fff' }}>
      <canvas ref={canvasRef} width={1755} height={993} style={{ position: 'absolute', left: 0, top: 0 }} />

      {/* small gaps between the axis lines and the horizontal grid */}
      <div style={strip(130, 0, 2, 867, '#fff')} />
      <div style={strip(1633, 0, 2, 867, '#fff')} />
      <div style={strip(120, 865, 9, 2, GRID_H)} />
      <div style={strip(1636, 865, 9, 2, GRID_H)} />

      {/* legend row */}
      <div style={strip(132, 9, 1233, 56, '#fff')} />
      <span style={textStyle(132.7, 23.6, '#222')}>UK 10Y</span>
      <span style={textStyle(243.6, 23.6, UK_COLOR)}>5.038 (-0.28%)</span>
      <Pencil left={458} />
      <span style={textStyle(504, 23.6, '#222')}>Japan 10Y</span>
      <span style={textStyle(656, 23.6, JAPAN_COLOR)}>2.799 (-0.63%)</span>
      <Pencil left={870} />
      <span style={textStyle(917, 23.6, '#222')}>Germany 10Y</span>
      <span style={textStyle(1109, 23.6, GERMANY_COLOR)}>3.204 (+0.97%)</span>
      <Pencil left={1330} />

      {/* axis row */}
      <div style={strip(128, 875, 2, 51, GRID_H)} />
      <div style={strip(1635, 875, 2, 51, GRID_H)} />
      <Gear left={50} top={883} />
      <Gear left={1682} top={883} />

      {/* frame and range selector */}
      <div style={strip(5, 0, 2, 926, GRID_H)} />
      <div style={strip(5, 926, 1750, 67, '#f4f4f5')} />
      <div style={strip(5, 925, 1750, 2, '#e3e5e8')} />
      {rangeLabels.map((label, i) => (
        <span key={label} style={textStyle(rangeLefts[i], 950, label === '10Y' ? UK_COLOR : '#333')}>{label}</span>
      ))}
      <div style={strip(576, 990, 89, 3, UK_COLOR)} />
    </div>
  );
};

export default App;
